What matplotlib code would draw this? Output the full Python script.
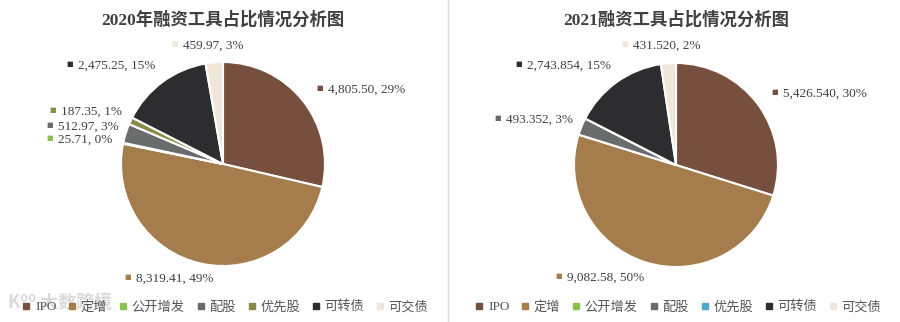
import matplotlib
matplotlib.use("Agg")
from matplotlib import pyplot as plt
from matplotlib.lines import Line2D

plt.rcParams['font.family'] = ['Liberation Serif', 'Noto Sans CJK SC', 'DejaVu Sans']

categories = ["IPO", "定增", "公开增发", "配股", "优先股", "可转债", "可交债"]
values_2020 = [4805.50, 8319.41, 25.71, 512.97, 187.35, 2475.25, 459.97]
values_2021 = [5426.540, 9082.58, 0, 493.352, 0, 2743.854, 431.520]
labels_2020 = ["4,805.50", "8,319.41", "25.71", "512.97", "187.35", "2,475.25", "459.97"]
labels_2021 = ["5,426.540", "9,082.58", "", "493.352", "", "2,743.854", "431.520"]
pct_2020 = [29, 49, 0, 3, 1, 15, 3]
pct_2021 = [30, 50, 0, 3, 0, 15, 2]
titles = ["2020年融资工具占比情况分析图", "2021融资工具占比情况分析图"]

colors_2020 = ["#774f3f", "#a57c4b", "#8cc152", "#6a6b6d", "#8a8a48", "#2d2d2f", "#f0e6da"]
colors_2021 = ["#774f3f", "#a57c4b", "#8cc152", "#6a6b6d", "#4bacc6", "#2d2d2f", "#f0e6da"]

W, H = 900, 322
fig = plt.figure(figsize=(9, 3.22), dpi=100)


def fx(px):
    return px / W


def fy(py):
    return 1 - py / H


# label anchor positions (pixels, marker position) per slice
label_pos_2020 = [(320, 88), (128, 277), (50, 138), (50, 125), (53, 110), (70, 64), (175, 44)]
label_pos_2021 = [(775, 92), (559, 276), None, (498, 118), None, (519, 64), (625, 44)]

panels = [
    (values_2020, labels_2020, pct_2020, colors_2020, label_pos_2020, 223, 164, 102, titles[0], 226),
    (values_2021, labels_2021, pct_2021, colors_2021, label_pos_2021, 676, 165, 102, titles[1], 679),
]

text_color = "#404040"

for vals, labs, pcts, cols, lpos, cx, cy, r, title, lx in panels:
    ax = fig.add_axes([fx(cx - r), fy(cy + r), fx(2 * r), 2 * r / H])
    ax.pie(vals, colors=cols, startangle=90, counterclock=False,
           wedgeprops=dict(edgecolor="white", linewidth=1.5))
    ax.set_xlim(-1, 1)
    ax.set_ylim(-1, 1)
    ax.set_aspect("equal")
    for lab, pct, c, pos in zip(labs, pcts, cols, lpos):
        if pos is None:
            continue
        fig.text(fx(pos[0]), fy(pos[1]), "■", color=c, fontsize=5,
                 family="DejaVu Sans", ha="center", va="center")
        fig.text(fx(pos[0] + 8), fy(pos[1] + 2), f"{lab}, {pct}%", color=text_color,
                 fontsize=9.5, ha="left", va="center")
    fig.text(fx(cx), fy(20), title, color=text_color, fontsize=12.5,
             fontweight="bold", ha="center", va="center")
    handles = [Line2D([], [], marker="s", linestyle="none", markersize=4,
                      markerfacecolor=c, markeredgecolor=c) for c in cols]
    fig.legend(handles, categories, loc="center", bbox_to_anchor=(fx(lx), fy(307)),
               ncol=7, frameon=False, fontsize=9.5, handlelength=0.4,
               handletextpad=0.45, columnspacing=1.0, labelcolor="#555555")

# divider between panels
fig.add_artist(Line2D([fx(448), fx(448)], [0, 1], color="#d9d9d9", linewidth=1))

# watermark
fig.text(fx(8), fy(302), "K⁰⁰ 大数跨境", color="#d0d0d0", alpha=0.75, fontsize=13,
         fontweight="bold", ha="left", va="center",
         family=["Noto Sans CJK SC", "DejaVu Sans"])

fig.savefig("out.png", dpi=100)
